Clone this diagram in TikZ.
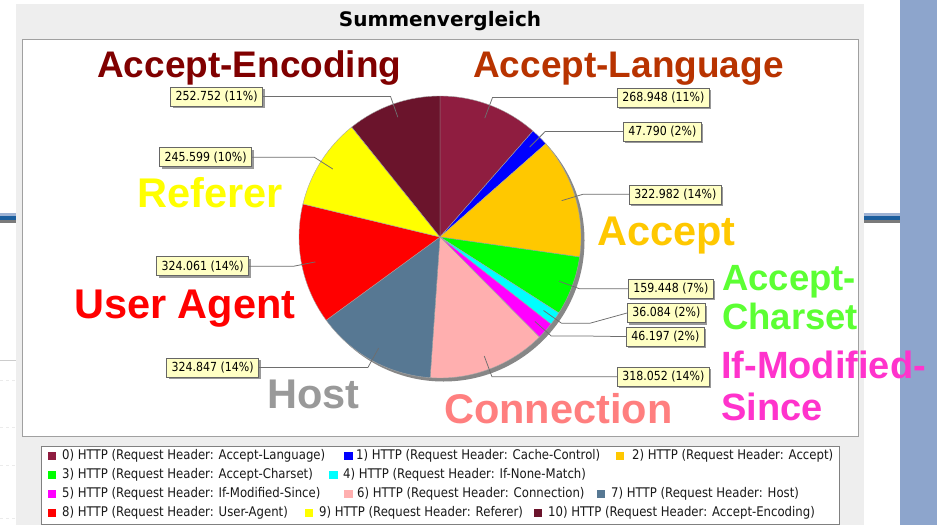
\documentclass[tikz,border=0pt]{standalone}
\usepackage{fontspec}
\setmainfont{Liberation Sans}
\newfontfamily\valfont[FakeStretch=0.88]{DejaVu Sans}
\newfontfamily\titlefont{DejaVu Sans}
\usetikzlibrary{calc,shadows}
\definecolor{panelbg}{HTML}{EEEEEE}
\definecolor{plotborder}{HTML}{A0A0A0}
\definecolor{bandblue}{HTML}{8DA5CC}
\definecolor{bardark}{HTML}{1B5E9E}
\definecolor{bargray}{HTML}{7A7A7A}
\definecolor{sl0}{HTML}{8F1D40}
\definecolor{sl1}{HTML}{0000FF}
\definecolor{sl2}{HTML}{FFC800}
\definecolor{sl3}{HTML}{00FF00}
\definecolor{sl4}{HTML}{00FFFF}
\definecolor{sl5}{HTML}{FF00FF}
\definecolor{sl6}{HTML}{FFAFAF}
\definecolor{sl7}{HTML}{577893}
\definecolor{sl8}{HTML}{FF0000}
\definecolor{sl9}{HTML}{FFFF00}
\definecolor{sl10}{HTML}{6B142C}
\definecolor{labelfill}{HTML}{FFFFC4}
\definecolor{leadercol}{HTML}{6E6E6E}
\definecolor{bigAE}{HTML}{800000}
\definecolor{bigAL}{HTML}{B83300}
\definecolor{bigRef}{HTML}{FFFF00}
\definecolor{bigAcc}{HTML}{FFC800}
\definecolor{bigUA}{HTML}{FF0000}
\definecolor{bigCh}{HTML}{5CFF33}
\definecolor{bigIMS}{HTML}{FF33CC}
\definecolor{bigHost}{HTML}{999999}
\definecolor{bigConn}{HTML}{FF7F7F}
\begin{document}
\begin{tikzpicture}[x=1pt,y=-1pt,
  vlabel/.style={draw=gray!80!black, fill=labelfill, line width=0.6pt,
    font=\valfont\fontsize{12.5}{14}\selectfont, inner xsep=5pt, inner ysep=0pt,
    minimum height=19pt,
    drop shadow={shadow xshift=2pt, shadow yshift=-2pt, fill=black!40, opacity=1}},
  leader/.style={draw=leadercol, line width=0.75pt},
  bigtext/.style={font=\bfseries\fontsize{#1}{#1}\selectfont, inner sep=0pt, anchor=base west},
  legsq/.style={fill=#1, inner sep=0pt, minimum size=8.5pt},
  legtext/.style={font=\valfont\fontsize{13.3}{15}\selectfont, inner sep=0pt, anchor=west, text=black!90}
]
\useasboundingbox (0,0) rectangle (937,525);
\fill[white] (0,0) rectangle (937,525);
% slide background bits
\fill[bandblue] (900,0) rectangle (937,525);
\fill[bandblue!85!white] (0,213) rectangle (16,216);
\fill[bardark] (0,216) rectangle (16,219.5);
\fill[bargray] (0,219.5) rectangle (16,223);
\fill[bandblue!85!white] (864,213) rectangle (900,216);
\fill[bardark] (864,216) rectangle (900,219.5);
\fill[bargray] (864,219.5) rectangle (900,223);
\draw[black!20, line width=1pt] (0,360) -- (16,360);
\foreach \yy in {380,427,465,518} \draw[black!8, dashed, line width=0.8pt] (0,\yy) -- (16,\yy);
% panel
\fill[panelbg] (16,4) rectangle (864,525);
\filldraw[fill=white, draw=plotborder, line width=0.8pt] (22,39) rectangle (858,436);
\filldraw[fill=white, draw=black!50, line width=0.8pt] (41,446) rectangle (839,524);
% title
\node[font=\titlefont\bfseries\fontsize{20}{22}\selectfont, inner sep=0pt] (title) at (440,21) {Summenvergleich};
% pie
\coordinate (c) at (440,237);
\fill[black!47] ($(c)+(3.5,3.5)$) circle[radius=141];
\foreach \s/\e/\col in {-90/-48.7426/sl0, -48.7426/-41.4115/sl1, -41.4115/8.1349/sl2,
  8.1349/32.5947/sl3, 32.5947/38.1301/sl4, 38.1301/45.2168/sl5, 45.2168/94.0069/sl6,
  94.0069/143.8394/sl7, 143.8394/193.5514/sl8, 193.5514/231.2270/sl9, 231.2270/270/sl10}
  \filldraw[fill=\col, draw=black!35, line width=0.4pt]
    (c) -- ($(c)+(\s:141)$) arc[start angle=\s, end angle=\e, radius=141] -- cycle;
% leader anchors and elbows
\foreach \i/\m in {0/-69.37, 1/-45.08, 2/-16.64, 3/20.36, 4/35.36, 5/41.67,
  6/69.61, 7/118.92, 8/168.70, 9/212.39, 10/250.61}{
  \coordinate (a\i) at ($(c)+(\m:127)$);
  \coordinate (e\i) at ($(c)+(\m:149)$);
}
% value labels
\node[vlabel, anchor=west] (l0) at (617,97.6) {268.948 (11\%)};
\node[vlabel, anchor=west] (l1) at (623,131.5) {47.790 (2\%)};
\node[vlabel, anchor=west] (l2) at (629,194.3) {322.982 (14\%)};
\node[vlabel, anchor=west] (l3) at (628,288.8) {159.448 (7\%)};
\node[vlabel, anchor=west] (l4) at (627,313) {36.084 (2\%)};
\node[vlabel, anchor=west] (l5) at (626,336.6) {46.197 (2\%)};
\node[vlabel, anchor=west] (l6) at (617,376.7) {318.052 (14\%)};
\node[vlabel, anchor=east] (l7) at (259,367.4) {324.847 (14\%)};
\node[vlabel, anchor=east] (l8) at (249,266.2) {324.061 (14\%)};
\node[vlabel, anchor=east] (l9) at (252,157.2) {245.599 (10\%)};
\node[vlabel, anchor=east] (l10) at (263,96.4) {252.752 (11\%)};
\foreach \i in {0,...,6}
  \draw[leader] (a\i) -- (e\i) -- ($(l\i.west |- e\i)+(-37,0)$) -- (l\i.west);
\foreach \i in {7,...,10}
  \draw[leader] (a\i) -- (e\i) -- ($(l\i.east |- e\i)+(37,0)$) -- (l\i.east);
% big header names
\node[bigtext=37, text=bigAE] (tAE) at (97,77) {Accept-Encoding};
\node[bigtext=37, text=bigAL] (tAL) at (473,77) {Accept-Language};
\node[bigtext=41.5, text=bigRef] (tRef) at (137,207) {Referer};
\node[bigtext=41.5, text=bigAcc] (tAcc) at (597,245) {Accept};
\node[bigtext=41.5, text=bigUA] (tUA) at (74,318) {User Agent};
\node[bigtext=41.5, text=bigHost] (tHost) at (267,408) {Host};
\node[bigtext=41.5, text=bigConn] (tConn) at (444,423) {Connection};
\node[bigtext=36.5, text=bigCh] (tCh1) at (722,290) {Accept-};
\node[bigtext=36.5, text=bigCh] (tCh2) at (722,329) {Charset};
\node[bigtext=38, text=bigIMS] (tIMS1) at (721,378) {If-Modified-};
\node[bigtext=38, text=bigIMS] (tIMS2) at (721,420) {Since};
% legend
\node[legsq=sl0] (s0) at (52,456) {};
\node[legtext] (t0) at (62,456) {0) HTTP (Request Header: Accept-Language)};
\node[legsq=sl1] (s1) at (348.5,456) {};
\node[legtext] (t1) at (356,456) {1) HTTP (Request Header: Cache-Control)};
\node[legsq=sl2] (s2) at (620,456) {};
\node[legtext] (t2) at (632,456) {2) HTTP (Request Header: Accept)};
\node[legsq=sl3] (s3) at (52,475) {};
\node[legtext] (t3) at (62,475) {3) HTTP (Request Header: Accept-Charset)};
\node[legsq=sl4] (s4) at (333.5,475) {};
\node[legtext] (t4) at (343,475) {4) HTTP (Request Header: If-None-Match)};
\node[legsq=sl5] (s5) at (52,494) {};
\node[legtext] (t5) at (62,494) {5) HTTP (Request Header: If-Modified-Since)};
\node[legsq=sl6] (s6) at (348.5,494) {};
\node[legtext] (t6) at (357,494) {6) HTTP (Request Header: Connection)};
\node[legsq=sl7] (s7) at (601,494) {};
\node[legtext] (t7) at (611,494) {7) HTTP (Request Header: Host)};
\node[legsq=sl8] (s8) at (52,513) {};
\node[legtext] (t8) at (62,513) {8) HTTP (Request Header: User-Agent)};
\node[legsq=sl9] (s9) at (309,513) {};
\node[legtext] (t9) at (319,513) {9) HTTP (Request Header: Referer)};
\node[legsq=sl10] (s10) at (538,513) {};
\node[legtext] (t10) at (548,513) {10) HTTP (Request Header: Accept-Encoding)};
\end{tikzpicture}
\end{document}
